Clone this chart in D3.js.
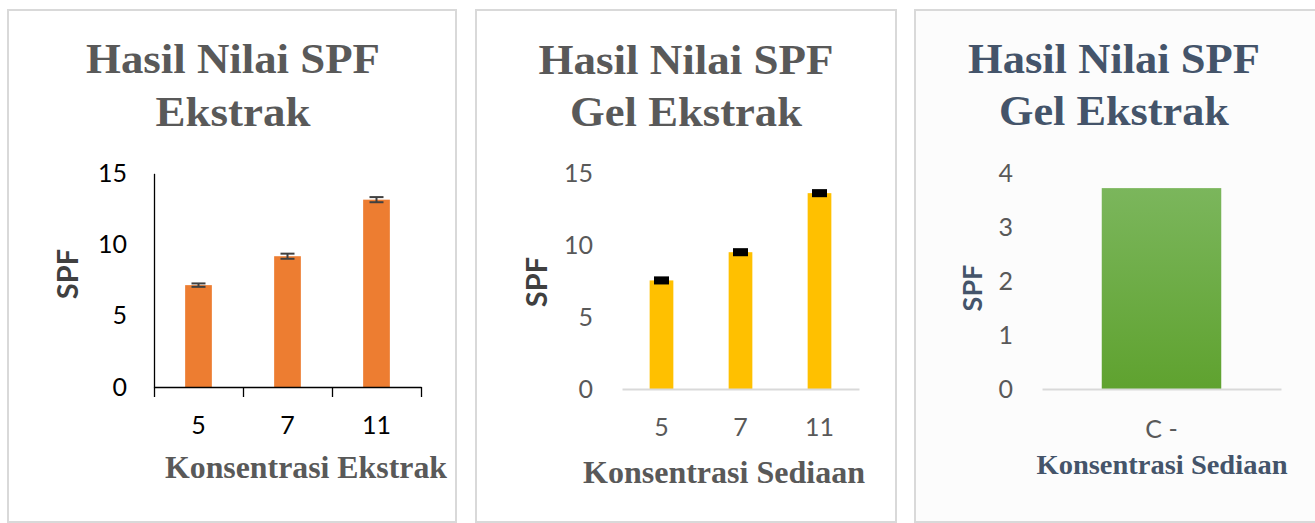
<!DOCTYPE html>
<html>
<head>
<meta charset="utf-8">
<script src="https://cdn.jsdelivr.net/npm/d3@7"></script>
<style>
  html, body { margin: 0; padding: 0; background: #ffffff; }
  svg { display: block; }
</style>
</head>
<body>
<svg id="chart" width="1315" height="523"></svg>
<script>
// ---- Data ----
const ekstrakCategories = ["5", "7", "11"];
const ekstrakSPF = [7.15, 9.18, 13.15];
const ekstrakErr = [0.12, 0.18, 0.18];
const ekstrakTicks = [0, 5, 10, 15];

const gelCategories = ["5", "7", "11"];
const gelSPF = [7.54, 9.5, 13.6];
const gelErr = [0.28, 0.28, 0.28];
const gelTicks = [0, 5, 10, 15];

const controlCategories = ["C -"];
const controlSPF = [3.72];
const controlTicks = [0, 1, 2, 3, 4];

const titles = [
  ["Hasil Nilai SPF", "Ekstrak"],
  ["Hasil Nilai SPF", "Gel Ekstrak"],
  ["Hasil Nilai SPF", "Gel Ekstrak"]
];
const xTitles = ["Konsentrasi Ekstrak", "Konsentrasi Sediaan", "Konsentrasi Sediaan"];
const yTitle = "SPF";

// ---- Drawing ----
const svg = d3.select("#chart");
const defs = svg.append("defs");
const grad = defs.append("linearGradient").attr("id", "greenGrad")
  .attr("x1", 0).attr("y1", 0).attr("x2", 0).attr("y2", 1);
grad.append("stop").attr("offset", "0%").attr("stop-color", "#7bb65c");
grad.append("stop").attr("offset", "100%").attr("stop-color", "#5fa22f");

const SERIF = "'Liberation Serif', 'Times New Roman', serif";
const SANS = "Lato, 'Open Sans', sans-serif";
const TICK_SIZE = 25;

const panels = [
  {
    box: [8, 10, 448, 512], bg: "#ffffff",
    titleColor: "#595959", titleCx: 233, titleW: [294, 155], titleY: [73, 126], titleSize: 43,
    cats: ekstrakCategories, vals: ekstrakSPF, errs: ekstrakErr, ticks: ekstrakTicks,
    xr: [154, 421], yr: [387, 173.3], domainMax: 15, pad: 0.7,
    barColor: "#ED7D31", errStyle: "line",
    axisColor: "#000000", tickColor: "#000000", yAxisLine: true,
    yPad: 27, xPad: 29,
    xTitle: xTitles[0], xTitleCx: 306, xTitleW: 282, xTitleY: 478, xTitleSize: 31, xTitleColor: "#595959",
    yTitleX: 68, yTitleY: 274, yTitleSize: 29, yTitleColor: "#404040"
  },
  {
    box: [476, 10, 420, 512], bg: "#ffffff",
    titleColor: "#595959", titleCx: 686, titleW: [295, 232], titleY: [74, 126], titleSize: 43,
    cats: gelCategories, vals: gelSPF, errs: gelErr, ticks: gelTicks,
    xr: [622, 859], yr: [389, 173], domainMax: 15, pad: 0.7,
    barColor: "#FFC000", errStyle: "block",
    axisColor: "#d9d9d9", tickColor: "#595959", yAxisLine: false,
    yPad: 29, xPad: 29,
    xTitle: xTitles[1], xTitleCx: 724, xTitleW: 282, xTitleY: 483, xTitleSize: 31, xTitleColor: "#595959",
    yTitleX: 537, yTitleY: 282, yTitleSize: 29, yTitleColor: "#404040"
  },
  {
    box: [915, 10, 410, 512], bg: "#fcfcfc",
    titleColor: "#44546A", titleCx: 1114, titleW: [292, 230], titleY: [73, 125], titleSize: 43,
    cats: controlCategories, vals: controlSPF, errs: null, ticks: controlTicks,
    xr: [1042, 1281], yr: [389, 173], domainMax: 4, pad: 0.5,
    barColor: "url(#greenGrad)", errStyle: null,
    axisColor: "#d9d9d9", tickColor: "#595959", yAxisLine: false,
    yPad: 29, xPad: 31,
    xTitle: xTitles[2], xTitleCx: 1162, xTitleW: 251, xTitleY: 474, xTitleSize: 28, xTitleColor: "#44546A",
    yTitleX: 972, yTitleY: 288, yTitleSize: 27, yTitleColor: "#44546A"
  }
];

panels.forEach((p, pi) => {
  const g = svg.append("g");
  const [bx, by, bw, bh] = p.box;
  g.append("rect").attr("x", bx).attr("y", by).attr("width", bw).attr("height", bh)
    .attr("fill", p.bg).attr("stroke", "#d9d9d9").attr("stroke-width", 2);

  // Titles
  titles[pi].forEach((t, i) => {
    g.append("text").attr("x", p.titleCx).attr("y", p.titleY[i])
      .attr("text-anchor", "middle")
      .attr("font-family", SERIF).attr("font-weight", "bold")
      .attr("font-size", p.titleSize).attr("fill", p.titleColor)
      .attr("textLength", p.titleW[i]).attr("lengthAdjust", "spacingAndGlyphs")
      .text(t);
  });

  const x = d3.scaleBand().domain(p.cats).range(p.xr).paddingInner(p.pad).paddingOuter(p.pad / 2);
  const y = d3.scaleLinear().domain([0, p.domainMax]).range(p.yr);

  // Y axis
  const yAxis = d3.axisLeft(y).tickValues(p.ticks).tickFormat(d3.format("d")).tickSize(0).tickPadding(p.yPad);
  const yG = g.append("g").attr("transform", `translate(${p.xr[0]},0)`).call(yAxis);
  yG.selectAll("text").attr("font-family", SANS).attr("font-size", TICK_SIZE).attr("fill", p.tickColor);
  if (p.yAxisLine) {
    yG.select(".domain").attr("stroke", "#000").attr("stroke-width", 1.3);
  } else {
    yG.select(".domain").remove();
  }

  // Bars
  g.append("g").selectAll("rect").data(p.vals).join("rect")
    .attr("x", (d, i) => x(p.cats[i]))
    .attr("width", x.bandwidth())
    .attr("y", d => y(d))
    .attr("height", d => y(0) - y(d))
    .attr("fill", p.barColor);

  // Error bars
  if (p.errStyle === "line") {
    const eg = g.append("g").attr("stroke", "#404040").attr("stroke-width", 2);
    p.vals.forEach((v, i) => {
      const cx = x(p.cats[i]) + x.bandwidth() / 2;
      const e = p.errs[i];
      eg.append("line").attr("x1", cx).attr("x2", cx).attr("y1", y(v + e)).attr("y2", y(v - e));
      eg.append("line").attr("x1", cx - 7).attr("x2", cx + 7).attr("y1", y(v + e)).attr("y2", y(v + e));
      eg.append("line").attr("x1", cx - 7).attr("x2", cx + 7).attr("y1", y(v - e)).attr("y2", y(v - e));
    });
  } else if (p.errStyle === "block") {
    g.append("g").selectAll("rect").data(p.vals).join("rect")
      .attr("x", (d, i) => x(p.cats[i]) + x.bandwidth() / 2 - 7.5)
      .attr("width", 15)
      .attr("y", (d, i) => y(d + p.errs[i]))
      .attr("height", (d, i) => y(d - p.errs[i]) - y(d + p.errs[i]))
      .attr("fill", "#000000");
  }

  // X axis
  const xAxis = d3.axisBottom(x).tickSize(0).tickPadding(p.xPad);
  const xG = g.append("g").attr("transform", `translate(0,${y(0)})`).call(xAxis);
  xG.selectAll("text").attr("font-family", SANS).attr("font-size", TICK_SIZE).attr("fill", p.tickColor);
  xG.select(".domain").attr("stroke", p.axisColor).attr("stroke-width", p.yAxisLine ? 1.3 : 2);
  if (p.yAxisLine) {
    const xb = d3.scaleLinear().domain([0, p.cats.length]).range(p.xr);
    const bG = g.append("g").attr("transform", `translate(0,${y(0)})`)
      .call(d3.axisBottom(xb).tickValues(d3.range(p.cats.length + 1)).tickFormat("").tickSize(10).tickSizeOuter(0));
    bG.select(".domain").remove();
    bG.selectAll("line").attr("stroke", "#000").attr("stroke-width", 1.3);
  }

  // X title
  g.append("text").attr("x", p.xTitleCx).attr("y", p.xTitleY)
    .attr("text-anchor", "middle")
    .attr("font-family", SERIF).attr("font-weight", "bold")
    .attr("font-size", p.xTitleSize).attr("fill", p.xTitleColor)
    .attr("textLength", p.xTitleW).attr("lengthAdjust", "spacingAndGlyphs")
    .text(p.xTitle);

  // Y title
  g.append("text")
    .attr("transform", `translate(${p.yTitleX},${p.yTitleY}) rotate(-90)`)
    .attr("text-anchor", "middle").attr("dy", "0.36em")
    .attr("font-family", SANS).attr("font-weight", "bold")
    .attr("font-size", p.yTitleSize).attr("fill", p.yTitleColor)
    .text(yTitle);
});
</script>
</body>
</html>
